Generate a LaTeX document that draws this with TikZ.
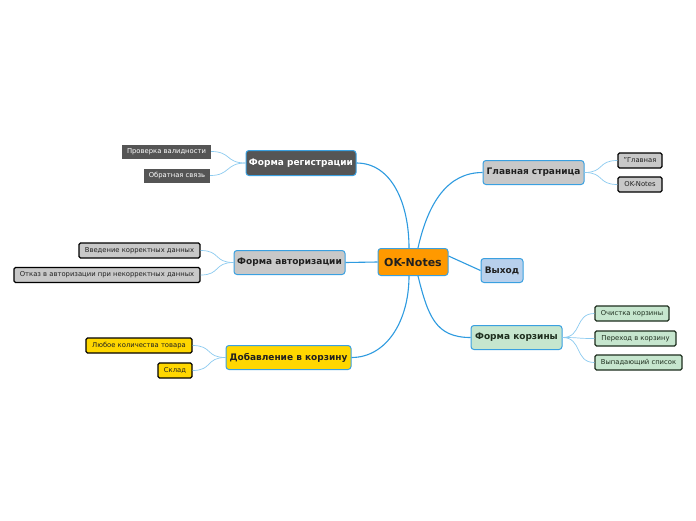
\documentclass[tikz,border=0pt]{standalone}
\usepackage{fontspec}
\setmainfont{DejaVu Sans}
\definecolor{conn}{HTML}{2E9BE0}
\definecolor{subconn}{HTML}{8CCBF0}
\definecolor{dgray}{HTML}{555555}
\definecolor{lgray}{HTML}{C8C8C8}
\definecolor{orng}{HTML}{FF9900}
\definecolor{yel}{HTML}{FFD700}
\definecolor{lblue}{HTML}{B8D0EC}
\definecolor{lgreen}{HTML}{C6E6CE}
\definecolor{dgreen}{HTML}{1E2E1E}
\definecolor{mborder}{HTML}{3AA0E0}
\definecolor{txt}{HTML}{202020}
\begin{document}
\begin{tikzpicture}[x=1pt,y=-1pt,
  mainbox/.style={draw=mborder,line width=1pt,rounded corners=3pt,inner sep=0pt,text=txt,
    font=\fontsize{9}{10}\selectfont\bfseries,align=center},
  subbox/.style={draw=black,line width=1.3pt,rounded corners=1.5pt,inner sep=0pt,text=txt,
    font=\fontsize{6.8}{7.5}\selectfont,align=center,minimum height=15pt},
  darksub/.style={fill=dgray,text=white,inner sep=0pt,
    font=\fontsize{6.8}{7.5}\selectfont,align=center,minimum height=14pt},
  mainline/.style={draw=conn,line width=1.1pt},
  subline/.style={draw=subconn,line width=0.7pt}]
\useasboundingbox (0,0) rectangle (696,520);
\fill[white] (0,0) rectangle (696,520);

% center
\node[mainbox,fill=orng,minimum width=70pt,minimum height=27pt,font=\fontsize{11}{12}\selectfont\bfseries] (c) at (413,262) {OK-Notes};

% main nodes
\node[mainbox,fill=dgray,text=white,minimum width=110pt,minimum height=25pt] (reg) at (301,163) {Форма регистрации};
\node[mainbox,fill=lgray,minimum width=111pt,minimum height=24pt] (auth) at (289.5,262.5) {Форма авторизации};
\node[mainbox,fill=yel,minimum width=125pt,minimum height=24pt] (add) at (288.5,357.5) {Добавление в корзину};
\node[mainbox,fill=lgray,minimum width=101pt,minimum height=24pt] (home) at (533.5,172.5) {Главная страница};
\node[mainbox,fill=lblue,minimum width=42pt,minimum height=24pt] (exit) at (502,270.5) {Выход};
\node[mainbox,fill=lgreen,text=dgreen,minimum width=91pt,minimum height=24pt] (cart) at (516.5,337.5) {Форма корзины};

% children
\node[darksub,minimum width=89pt] (r1) at (166.5,151.5) {Проверка валидности};
\node[darksub,minimum width=66pt] (r2) at (177,175.5) {Обратная связь};

\node[subbox,fill=lgray,minimum width=121pt] (a1) at (139.5,250.5) {Введение корректных данных};
\node[subbox,fill=lgray,minimum width=186pt] (a2) at (107,275) {Отказ в авторизации при некорректных данных};

\node[subbox,fill=yel,minimum width=106pt] (d1) at (139,345.5) {Любое количества товара};
\node[subbox,fill=yel,minimum width=34pt] (d2) at (175,370.5) {Склад};

\node[subbox,fill=lgray,minimum width=44pt] (h1) at (640,160.5) {"Главная};
\node[subbox,fill=lgray,minimum width=44pt] (h2) at (640,184.5) {OK-Notes};

\node[subbox,fill=lgreen,draw=dgreen,text=dgreen,minimum width=74pt] (k1) at (632,313.5) {Очистка корзины};
\node[subbox,fill=lgreen,draw=dgreen,text=dgreen,minimum width=81pt] (k2) at (635.5,338.5) {Переход в корзину};
\node[subbox,fill=lgreen,draw=dgreen,text=dgreen,minimum width=87pt] (k3) at (638.5,362.5) {Выпадающий список};

% main connectors
\draw[mainline] ([xshift=-4pt]c.north) .. controls +(0,-45) and +(35,0) .. (reg.east);
\draw[mainline] (c.west) -- (auth.east);
\draw[mainline] ([xshift=-4pt]c.south) .. controls +(0,45) and +(35,0) .. (add.east);
\draw[mainline] ([xshift=5pt]c.north) .. controls +(10,-45) and +(-35,0) .. (home.west);
\draw[mainline] ([yshift=6pt]c.east) -- (exit.west);
\draw[mainline] ([xshift=5pt]c.south) .. controls +(10,40) and +(-35,0) .. (cart.west);

% sub connectors
\draw[subline] (reg.west) .. controls +(-20,0) and +(20,0) .. (r1.east);
\draw[subline] (reg.west) .. controls +(-20,0) and +(20,0) .. (r2.east);
\draw[subline] (auth.west) .. controls +(-20,0) and +(20,0) .. (a1.east);
\draw[subline] (auth.west) .. controls +(-20,0) and +(20,0) .. (a2.east);
\draw[subline] (add.west) .. controls +(-20,0) and +(20,0) .. (d1.east);
\draw[subline] (add.west) .. controls +(-20,0) and +(20,0) .. (d2.east);
\draw[subline] (home.east) .. controls +(20,0) and +(-20,0) .. (h1.west);
\draw[subline] (home.east) .. controls +(20,0) and +(-20,0) .. (h2.west);
\draw[subline] (cart.east) .. controls +(20,0) and +(-20,0) .. (k1.west);
\draw[subline] (cart.east) .. controls +(20,0) and +(-20,0) .. (k2.west);
\draw[subline] (cart.east) .. controls +(20,0) and +(-20,0) .. (k3.west);
\end{tikzpicture}
\end{document}
